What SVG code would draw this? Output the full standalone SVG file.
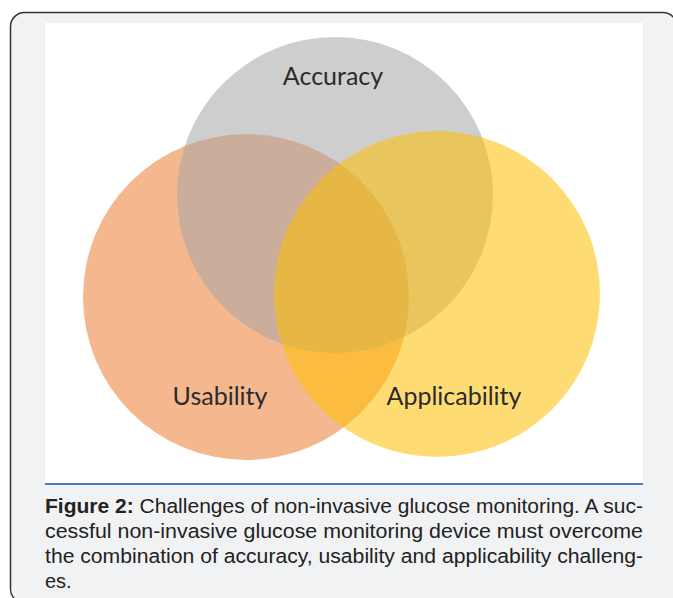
<svg xmlns="http://www.w3.org/2000/svg" width="673" height="598" viewBox="0 0 673 598">
<style>
.lbl{font-family:Lato,"Open Sans","Liberation Sans",sans-serif;font-size:25px;fill:#2b2b2b;text-anchor:middle}
.cap{font-family:"Liberation Sans",Arial,sans-serif;font-size:20px;fill:#222}
.c{opacity:0.55}
</style>
<rect x="10.5" y="12.5" width="666.5" height="590.5" rx="14" fill="#f1f2f4" stroke="#333" stroke-width="1.5"/>
<rect x="45" y="23" width="598" height="460" fill="#ffffff"/>
<g id="usability"><circle class="c" cx="246" cy="297" r="163" fill="#ED7D31"/></g>
<g id="accuracy"><circle class="c" cx="335" cy="195" r="158" fill="#A5A5A5"/></g>
<g id="applicability"><circle class="c" cx="437" cy="294" r="163" fill="#FFC000"/></g>
<g id="labels">
<text class="lbl" x="333" y="85">Accuracy</text>
<text class="lbl" x="220" y="405">Usability</text>
<text class="lbl" x="454" y="405">Applicability</text>
</g>
<g id="connectors"></g>
<line x1="45" y1="484" x2="643" y2="484" stroke="#4a7cc0" stroke-width="2"/>
<g id="caption">
<text class="cap" x="45" y="513" textLength="598" lengthAdjust="spacingAndGlyphs"><tspan font-weight="bold">Figure 2:</tspan> Challenges of non-invasive glucose monitoring. A suc-</text>
<text class="cap" x="45" y="538" textLength="598" lengthAdjust="spacingAndGlyphs">cessful non-invasive glucose monitoring device must overcome</text>
<text class="cap" x="45" y="563" textLength="598" lengthAdjust="spacingAndGlyphs">the combination of accuracy, usability and applicability challeng-</text>
<text class="cap" x="45" y="588">es.</text>
</g>
</svg>
